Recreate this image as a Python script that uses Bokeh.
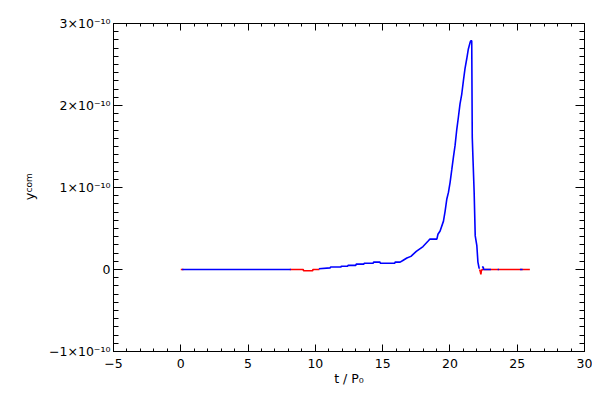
import math
import numpy as np
from bokeh.plotting import figure
from bokeh.models import (LinearAxis, FixedTicker, CustomJSTickFormatter, Label,
                          ColumnDataSource, Range1d)
from bokeh.embed import file_html
from bokeh.resources import INLINE

NAN = float("nan")
SCALE = 1e-10  # values below are in units of 1e-10

# Blue series (t / P0, y_com in 1e-10); NaN marks gaps in the line
blue_t = [0.1, 8.18, NAN,
          10.26, 11.10, 11.13, 11.90, 11.93, 12.40, 12.43, 13.00, 13.03, 13.60,
          13.63, 14.30, 14.33, 14.80, 14.83, 15.90, 15.93, 16.30, 16.50, 16.80,
          17.10, 17.50, 18.00, 18.40, 18.50, 19.03, 19.11, 19.27, 19.52, 19.64,
          19.77, 19.89, 20.01, 20.14, 20.26, 20.38, 20.51, 20.63, 20.75, 20.88,
          21.00, 21.12, 21.25, 21.37, 21.50, 21.55, 21.62, 21.66, 21.72, 21.80,
          21.88, 22.00, 22.08, 22.17, 22.22, NAN,
          22.38, 22.48, 22.50, 23.05, NAN,
          23.55, 23.65, NAN,
          25.20, 25.40]
blue_y = [0.0, 0.0, NAN,
          0.01, 0.02, 0.03, 0.03, 0.04, 0.04, 0.05, 0.05, 0.065, 0.065,
          0.077, 0.077, 0.09, 0.09, 0.077, 0.077, 0.09, 0.09, 0.11, 0.14,
          0.16, 0.22, 0.28, 0.35, 0.37, 0.37, 0.43, 0.47, 0.59, 0.71,
          0.86, 0.94, 1.06, 1.22, 1.37, 1.51, 1.71, 1.86, 2.02, 2.14,
          2.30, 2.45, 2.57, 2.69, 2.77, 2.79, 2.79, 1.61, 1.32, 0.94,
          0.41, 0.29, 0.09, 0.015, 0.015, NAN,
          0.03, 0.03, 0.0, 0.0, NAN,
          0.0, 0.0, NAN,
          0.0, 0.0]

# Red series (visible where it departs from the blue one)
red_t = [0.0, 0.2, NAN,
         8.10, 9.10, 9.12, 9.80, 9.82, 10.30, NAN,
         22.20, 22.25, 22.30, 22.33, 22.40, 25.94]
red_y = [0.0, 0.0, NAN,
         0.0, 0.0, -0.015, -0.015, 0.0, 0.0, NAN,
         0.0, -0.02, -0.06, -0.02, 0.0, 0.0]

x_major = [-5, 0, 5, 10, 15, 20, 25, 30]
x_minor = list(range(-5, 31))
y_major_units = [-1, 0, 1, 2, 3]
y_minor_units = [i / 10 for i in range(-10, 31)]

FONT = "DejaVu Sans"

p = figure(width=592, height=392, output_backend="svg", toolbar_location=None,
           x_range=Range1d(-5, 30), y_range=Range1d(-1 * SCALE, 3 * SCALE),
           min_border_left=113, min_border_right=8, min_border_top=23,
           min_border_bottom=41)
p.xgrid.visible = False
p.ygrid.visible = False
p.outline_line_color = "black"
p.background_fill_color = "white"
p.border_fill_color = "white"

src_red = ColumnDataSource(dict(t=red_t, y=list(np.array(red_y) * SCALE)))
src_blue = ColumnDataSource(dict(t=blue_t, y=list(np.array(blue_y) * SCALE)))
p.line("t", "y", source=src_red, line_color="#ff0000", line_width=1.6)
p.line("t", "y", source=src_blue, line_color="#0000ff", line_width=1.6)

xt = FixedTicker(ticks=x_major, minor_ticks=x_minor)
yt = FixedTicker(ticks=[v * SCALE for v in y_major_units],
                 minor_ticks=[v * SCALE for v in y_minor_units])
yfmt = CustomJSTickFormatter(code="""
const m = Math.round(tick / 1e-10);
if (m === 0) return "0";
const s = m < 0 ? "\u2212" + Math.abs(m) : "" + m;
return s + "\u00d710\u207b\u00b9\u2070";
""")
xfmt = CustomJSTickFormatter(code="""
return tick < 0 ? "\u2212" + Math.abs(tick) : "" + tick;
""")
blankfmt = CustomJSTickFormatter(code='return "";')

def style(ax, major_in, minor_in, labels=True):
    ax.major_tick_out = 0
    ax.minor_tick_out = 0
    ax.major_tick_in = major_in
    ax.minor_tick_in = minor_in
    ax.axis_line_color = "black"
    ax.major_tick_line_color = "black"
    ax.minor_tick_line_color = "black"
    ax.axis_line_width = 1
    if labels:
        ax.major_label_text_font = FONT
        ax.major_label_text_font_size = "12.5px"
        ax.major_label_text_color = "black"
    else:
        ax.formatter = blankfmt
        ax.major_label_standoff = 0

xa = p.xaxis[0]
xa.ticker = xt
xa.formatter = xfmt
style(xa, 7, 3)
xa.major_label_standoff = 7
xa.axis_label = "t / P\u2080"
xa.axis_label_text_font = FONT
xa.axis_label_text_font_style = "normal"
xa.axis_label_text_font_size = "12.5px"
xa.axis_label_text_color = "black"
xa.axis_label_standoff = 0

ya = p.yaxis[0]
ya.ticker = yt
ya.formatter = yfmt
style(ya, 9, 5)
ya.major_label_standoff = 3

top = LinearAxis(ticker=xt)
style(top, 7, 3, labels=False)
p.add_layout(top, "above")
right = LinearAxis(ticker=yt)
style(right, 9, 5, labels=False)
p.add_layout(right, "right")

# y-axis label "y_com" (rotated, with subscript), placed in the left side panel
p.add_layout(Label(x=-2, y=159, x_units="screen", y_units="screen", text="y",
                   angle=math.pi / 2, text_align="right", text_baseline="alphabetic",
                   text_font=FONT, text_font_size="13px", text_color="black"), "left")
p.add_layout(Label(x=7, y=159, x_units="screen", y_units="screen", text="com",
                   angle=math.pi / 2, text_align="left", text_baseline="alphabetic",
                   text_font=FONT, text_font_size="9px", text_color="black"), "left")

open("out.html", "w").write(file_html(p, INLINE))
